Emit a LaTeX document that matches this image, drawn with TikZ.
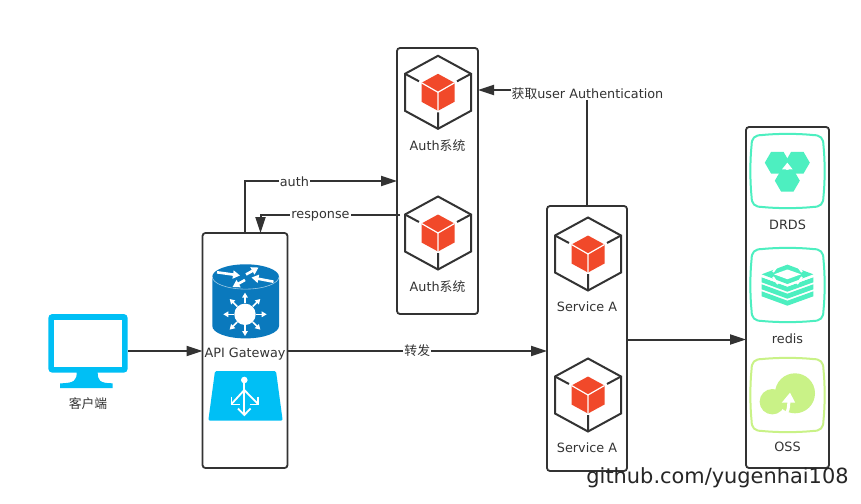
\documentclass[tikz,border=0pt]{standalone}
\usepackage{fontspec}
\setmainfont{DejaVu Sans}
\newfontfamily\cjk{Noto Sans CJK SC}
\usetikzlibrary{arrows.meta,calc}
\definecolor{ink}{HTML}{333333}
\definecolor{cubered}{HTML}{F1492A}
\definecolor{skyb}{HTML}{00BFF5}
\definecolor{routerb}{HTML}{0A79BD}
\definecolor{teal}{HTML}{4DEFC0}
\definecolor{lime}{HTML}{C9F287}
\tikzset{
  x=1pt,y=-1pt,
  box/.style={draw=ink,line width=1.8pt,rounded corners=3pt,fill=white,inner sep=0pt,outer sep=0pt},
  lbl/.style={font=\fontsize{12.8}{15}\selectfont,text=ink,inner sep=0pt},
  edgelbl/.style={lbl,fill=white,inner xsep=1pt,inner ysep=1pt},
  conn/.style={draw=ink,line width=2pt},
  arr/.style={conn,-{Triangle[length=16pt,width=10pt]}},
  whitearrow/.style={draw=white,line width=1.6pt,-{Triangle[length=5pt,width=5.5pt]}},
  topwhite/.style={draw=white,line width=2.6pt,-{Triangle[length=7pt,width=8pt]}},
}
\newcommand{\cubeicon}[2]{%
  \begin{scope}[shift={(#1,#2)}]
    \draw[ink,line width=2pt,line join=miter] (0,-36.5)--(33,-18.5)--(33,18.5)--(0,36.5)--(-33,18.5)--(-33,-18.5)--cycle;
    \draw[ink,line width=2pt] (-33,-18.5)--(-19,-11) (33,-18.5)--(19,-11) (0,36.5)--(0,20);
    \fill[cubered] (0,-18.5)--(16.5,-9.5)--(16.5,9.5)--(0,18.5)--(-16.5,9.5)--(-16.5,-9.5)--cycle;
    \draw[white,line width=1.2pt] (-16.5,-9.5)--(0,0)--(16.5,-9.5) (0,0)--(0,18.5);
  \end{scope}}
\newcommand{\squircle}[3]{%
  \draw[#3,line width=2pt] (#1-36,#2-25)
    .. controls (#1-36,#2-33) and (#1-33,#2-36) .. (#1-25,#2-36)
    .. controls (#1-10,#2-37.5) and (#1+10,#2-37.5) .. (#1+25,#2-36)
    .. controls (#1+33,#2-36) and (#1+36,#2-33) .. (#1+36,#2-25)
    .. controls (#1+37.5,#2-10) and (#1+37.5,#2+10) .. (#1+36,#2+25)
    .. controls (#1+36,#2+33) and (#1+33,#2+36) .. (#1+25,#2+36)
    .. controls (#1+10,#2+37.5) and (#1-10,#2+37.5) .. (#1-25,#2+36)
    .. controls (#1-33,#2+36) and (#1-36,#2+33) .. (#1-36,#2+25)
    .. controls (#1-37.5,#2+10) and (#1-37.5,#2-10) .. (#1-36,#2-25) -- cycle;}
\newcommand{\hexa}[2]{%
  \fill[teal] (#1+12.5,#2)--(#1+6.25,#2+10.8)--(#1-6.25,#2+10.8)--(#1-12.5,#2)--(#1-6.25,#2-10.8)--(#1+6.25,#2-10.8)--cycle;}
\newcommand{\chevron}[1]{%
  \fill[teal] (761.7,277.3+#1)--(787.4,286.7+#1)--(813.3,277.3+#1)--(813.3,282.3+#1)--(787.4,291.7+#1)--(761.7,282.3+#1)--cycle;}
\begin{document}
\begin{tikzpicture}
\useasboundingbox (0,0) rectangle (861,503);
\fill[white] (0,0) rectangle (861,503);

% boxes
\node[box,minimum width=85pt,minimum height=235pt] (api) at (245,350.5) {};
\node[box,minimum width=81pt,minimum height=266pt] (auth) at (437.5,181) {};
\node[box,minimum width=80pt,minimum height=265pt] (svc) at (587,338.5) {};
\node[box,minimum width=83pt,minimum height=341pt] (store) at (787.5,297.5) {};

% monitor
\fill[skyb,rounded corners=4pt] (48.3,314) rectangle (127.7,372.7);
\fill[white] (54,320) rectangle (122,366.7);
\fill[skyb] (76.7,372) -- (97.7,372) .. controls (97.7,380) and (99,383.3) .. (112.7,383.3) -- (112.7,388) -- (60,388) -- (60,383.3) .. controls (75,383.3) and (76.7,380) .. (76.7,372) -- cycle;
\coordinate (clientedge) at (128,351);

% router icon
\fill[routerb] (212.3,276.7) .. controls (212.3,269.9) and (227,264.3) .. (245.6,264.3) .. controls (264,264.3) and (279,269.9) .. (279,276.7)
  -- (279,326) .. controls (279,332.8) and (264,338.4) .. (245.6,338.4) .. controls (227,338.4) and (212.3,332.8) .. (212.3,326) -- cycle;
\draw[white,opacity=.6,line width=.6pt] (212.3,276.7) .. controls (212.3,283.5) and (227,289.1) .. (245.6,289.1) .. controls (264,289.1) and (279,283.5) .. (279,276.7);
\fill[white] (245,314.3) circle[radius=10.7pt];
\foreach \a in {0,45,...,315}{
  \draw[whitearrow] ($(245,314.3)+(\a:11)$) -- ($(245,314.3)+(\a:21.7)$);
}
\draw[topwhite] (217,272.3) -- (240,275.5);
\draw[topwhite] (246,274.5) -- (258.5,267.5);
\draw[topwhite] (273.5,281.7) -- (251.5,277.5);
\draw[topwhite] (245,280) -- (232.5,287);

% trapezoid icon
\fill[skyb,rounded corners=1.5pt] (215,371)--(276,371)--(282.7,420.7)--(208.3,420.7)--cycle;
\fill[white] (244.3,380) circle[radius=3.3pt];
\draw[white,line width=1.8pt,line join=miter] (244.3,380)--(244.3,414);
\draw[white,line width=1.8pt] (238,408.5)--(244.3,415)--(250.6,408.5);
\draw[white,line width=1.8pt] (244.3,390)--(231.5,404) (244.3,390)--(258,404);
\draw[white,line width=1.8pt] (231.5,396.5)--(231.5,404.5)--(239.5,404.5);
\draw[white,line width=1.8pt] (258,396.5)--(258,404.5)--(250,404.5);

% cubes
\cubeicon{438}{92.3}
\cubeicon{438}{233}
\cubeicon{588}{254}
\cubeicon{588}{395}

% storage icons
\squircle{787.5}{171}{teal}
\hexa{777.3}{162.7}\hexa{797.3}{162.7}\hexa{787.3}{180.7}
\fill[white] (787.3,162.7)--(792.6,169.3)--(782,169.3)--cycle;

\squircle{787.5}{285}{teal}
\chevron{0}\chevron{7}\chevron{14}
\fill[white] (761.7,277)--(787.4,286.5)--(813.3,277)--(813.3,271)--(761.7,271)--cycle;
\fill[teal] (761.7,274.3)--(787.4,264.6)--(813.3,274.3)--(787.4,284)--cycle;
\fill[white] (774,274.3)--(787.4,269.5)--(801,274.3)--(787.4,279.2)--cycle;
\draw[white,line width=2pt] (778,265)--(773,272) (797,265)--(802,272) (773,277)--(778,284) (802,277)--(797,284);

\squircle{787.5}{395}{lime}
\fill[lime] (795,393.3) circle[radius=20pt];
\fill[lime] (772.3,401.7) circle[radius=12.7pt];
\fill[white] (790,392.7)--(795.2,402.7)--(781.7,402.7)--cycle;
\draw[white,line width=3pt] (788.8,401) .. controls (789,407) and (788,412) .. (784.5,416);

% connectors
\coordinate (resp) at (400,215);
\coordinate (respin) at (260.5,233);
\coordinate (respbend) at (260.5,215);
\coordinate (top) at (587,90);
\coordinate (authin) at (478,90);
\coordinate (svcout) at (627,339.5);
\coordinate (storein) at (746,339.5);
\draw[arr] (clientedge) -- (api.west |- clientedge);
\draw[arr] (api.east |- clientedge) -- (svc.west |- clientedge) node[midway,edgelbl] (fw) {\cjk 转发};
\draw[arr] (api.north) -- (api.north |- auth.west) -- node[edgelbl,pos=.325,yshift=-.5pt] (authlbl) {auth} (auth.west);
\draw[arr] (resp) -- node[edgelbl,pos=.57,yshift=-1.5pt] (resplbl) {response} (respbend) -- (respin);
\draw[conn] (svc.north) -- (top);
\draw[arr] (top) -- (authin);
\node[edgelbl] (getlbl) at (587.5,93.5) {{\cjk 获取}user Authentication};
\draw[arr] (svcout) -- (storein);

% labels
\node[lbl] (l0) at (88,403.5) {\cjk 客户端};
\node[lbl,fill=white,inner xsep=1pt] (l1) at (245,354.5) {API Gateway};
\node[lbl] (l2) at (437.5,145.7) {Auth{\cjk 系统}};
\node[lbl] (l3) at (437.5,286.7) {Auth{\cjk 系统}};
\node[lbl] (l4) at (587,306.7) {Service A};
\node[lbl] (l5) at (587,447.7) {Service A};
\node[lbl] (l6) at (787.5,224.7) {DRDS};
\node[lbl] (l7) at (787.5,338.7) {redis};
\node[lbl] (l8) at (787.5,446.7) {OSS};
\node[font=\fontsize{20.9}{25}\selectfont,text=black!85,inner sep=0pt,anchor=center] (wm) at (717.5,478) {github.com/yugenhai108};
\end{tikzpicture}
\end{document}
